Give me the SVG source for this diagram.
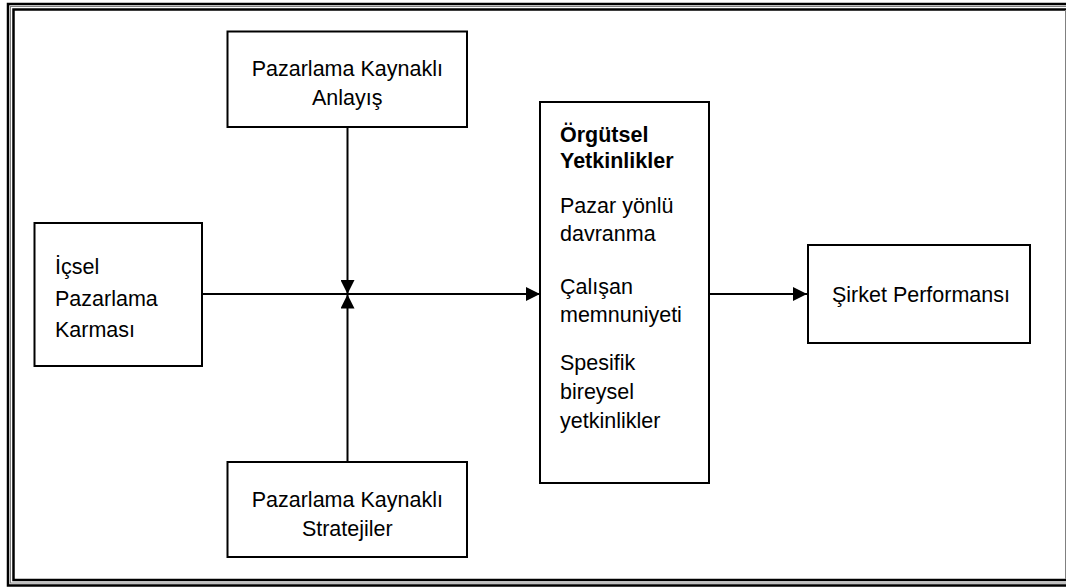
<svg xmlns="http://www.w3.org/2000/svg" width="1066" height="588" viewBox="0 0 1066 588">
  <style>
    .box { fill: #ffffff; stroke: #000000; stroke-width: 2; }
    .lbl { font-family: "Liberation Sans", Arial, sans-serif; font-size: 21.5px; fill: #000000; }
    .mid { text-anchor: middle; }
    .bold { font-weight: bold; }
    .wire { stroke: #000000; stroke-width: 2; fill: none; }
  </style>
  <defs>
    <marker id="arrow" viewBox="0 0 14 14" refX="14" refY="7" markerWidth="14" markerHeight="14" markerUnits="userSpaceOnUse" orient="auto">
      <path d="M0,0 L14,7 L0,14 Z" fill="#000000"/>
    </marker>
  </defs>

  <rect width="1066" height="588" fill="#ffffff"/>

  <!-- page border: thick / thin / thick -->
  <g id="frame" fill="none">
    <rect x="8" y="4" width="1080" height="581.5" stroke="#000000" stroke-width="2.5"/>
    <rect x="10.5" y="6.5" width="1075" height="576.5" stroke="#808080" stroke-width="1"/>
    <rect x="13.5" y="9.5" width="1070" height="570.5" stroke="#000000" stroke-width="2.5"/>
    <line x1="1065.5" y1="10" x2="1065.5" y2="579" stroke="#808080" stroke-width="1"/>
  </g>

  <!-- connectors -->
  <g id="connectors">
    <line class="wire" x1="347.5" y1="127" x2="347.5" y2="294" marker-end="url(#arrow)"/>
    <line class="wire" x1="347.5" y1="462" x2="347.5" y2="294.5" marker-end="url(#arrow)"/>
    <line class="wire" x1="202" y1="294" x2="540" y2="294" marker-end="url(#arrow)"/>
    <line class="wire" x1="709" y1="294" x2="807" y2="294" marker-end="url(#arrow)"/>
  </g>

  <g id="node-anlayis">
    <rect class="box" x="227.5" y="31.5" width="239.5" height="95.5"/>
    <text class="lbl mid" x="347.3" y="76">Pazarlama Kaynaklı</text>
    <text class="lbl mid" x="347.3" y="105">Anlayış</text>
  </g>

  <g id="node-stratejiler">
    <rect class="box" x="227.5" y="462" width="239.5" height="95"/>
    <text class="lbl mid" x="347.3" y="507">Pazarlama Kaynaklı</text>
    <text class="lbl mid" x="347.3" y="536">Stratejiler</text>
  </g>

  <g id="node-icsel">
    <rect class="box" x="34.5" y="223" width="167.5" height="143"/>
    <text class="lbl" x="55" y="274">İçsel</text>
    <text class="lbl" x="55" y="305.5">Pazarlama</text>
    <text class="lbl" x="55" y="336.5">Karması</text>
  </g>

  <g id="node-yetkinlikler">
    <rect class="box" x="540" y="102" width="169" height="381"/>
    <text class="lbl bold" x="560" y="142">Örgütsel</text>
    <text class="lbl bold" x="560" y="168">Yetkinlikler</text>
    <text class="lbl" x="560" y="213">Pazar yönlü</text>
    <text class="lbl" x="560" y="241">davranma</text>
    <text class="lbl" x="560" y="294">Çalışan</text>
    <text class="lbl" x="560" y="322">memnuniyeti</text>
    <text class="lbl" x="560" y="370">Spesifik</text>
    <text class="lbl" x="560" y="399">bireysel</text>
    <text class="lbl" x="560" y="428">yetkinlikler</text>
  </g>

  <g id="node-performans">
    <rect class="box" x="808" y="245" width="222" height="98"/>
    <text class="lbl mid" x="921" y="302">Şirket Performansı</text>
  </g>
</svg>
